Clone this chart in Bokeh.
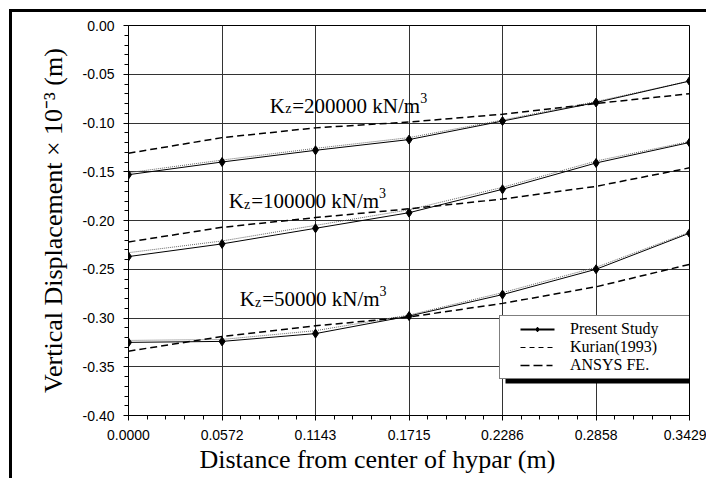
from bokeh.plotting import figure
from bokeh.models import (Range1d, FixedTicker, Legend, LegendItem, Label,
                          BoxAnnotation, ColumnDataSource, Title)
from bokeh.embed import file_html
from bokeh.resources import INLINE

# ---------------- data ----------------
x_pos = [0.0000, 0.0572, 0.1143, 0.1715, 0.2286, 0.2858, 0.3429]
x_labels = ["0.0000", "0.0572", "0.1143", "0.1715", "0.2286", "0.2858", "0.3429"]
y_ticks = [0.00, -0.05, -0.10, -0.15, -0.20, -0.25, -0.30, -0.35, -0.40]
y_labels = ["0.00", "-0.05", "-0.10", "-0.15", "-0.20", "-0.25", "-0.30", "-0.35", "-0.40"]

present_200k = [-0.153, -0.140, -0.128, -0.117, -0.098, -0.079, -0.057]
kurian_200k = [-0.151, -0.138, -0.126, -0.115, -0.097, -0.078, -0.057]
ansys_200k = [-0.131, -0.115, -0.105, -0.099, -0.091, -0.080, -0.070]

present_100k = [-0.237, -0.224, -0.208, -0.192, -0.168, -0.141, -0.120]
kurian_100k = [-0.233, -0.221, -0.205, -0.189, -0.166, -0.139, -0.119]
ansys_100k = [-0.222, -0.207, -0.197, -0.188, -0.178, -0.165, -0.146]

present_50k = [-0.325, -0.324, -0.316, -0.298, -0.276, -0.250, -0.213]
kurian_50k = [-0.323, -0.322, -0.313, -0.297, -0.274, -0.248, -0.212]
ansys_50k = [-0.334, -0.319, -0.308, -0.299, -0.285, -0.268, -0.245]

series_names = ["Present Study", "Kurian(1993)", "ANSYS FE."]
kz_labels = ["=200000 kN/m", "=100000 kN/m", "=50000 kN/m"]
x_title = "Distance from center of hypar (m)"
y_title = "Vertical Displacement \u00d7 10\u207b\u00b3 (m)"

SERIF = "Liberation Serif"
SANS = "Liberation Sans"
NAN = float("nan")

# canvas starts 12px right/down of the page origin (outer frame of the chart)
p = figure(width=697, height=469, output_backend="svg", toolbar_location=None,
           x_range=Range1d(0, 0.3429), y_range=Range1d(-0.40, 0.0),
           min_border_left=116, min_border_right=20, min_border_top=13,
           min_border_bottom=66,
           styles={"margin-left": "9px", "margin-top": "9px",
                   "border-left": "3px solid black", "border-top": "3px solid black"})
p.background_fill_color = "white"
p.border_fill_color = "white"
p.outline_line_color = "black"
p.outline_line_width = 1

# minor tick positions
x_minor = []
for a, b in zip(x_pos[:-1], x_pos[1:]):
    for k in range(1, 5):
        x_minor.append(a + (b - a) * k / 5)
y_minor = [-i / 100 for i in range(0, 41) if i % 5 != 0]

p.xaxis.ticker = FixedTicker(ticks=x_pos, minor_ticks=x_minor)
p.yaxis.ticker = FixedTicker(ticks=y_ticks, minor_ticks=y_minor)
p.xaxis.major_label_overrides = {v: s for v, s in zip(x_pos, x_labels)}
p.yaxis.major_label_overrides = {v: s for v, s in zip(y_ticks, y_labels)}

for ax in (p.xaxis[0], p.yaxis[0]):
    ax.axis_line_color = "black"
    ax.axis_line_width = 1
    ax.major_tick_line_color = "black"
    ax.minor_tick_line_color = "black"
    ax.major_tick_in = 0
    ax.major_tick_out = 5
    ax.minor_tick_in = 0
    ax.minor_tick_out = 4
    ax.major_label_text_font = SANS
    ax.major_label_text_font_size = "14px"
    ax.major_label_text_color = "black"
    ax.axis_label_text_font = SERIF
    ax.axis_label_text_font_style = "normal"
    ax.axis_label_text_font_size = "26px"
    ax.axis_label_text_color = "black"

p.xaxis.major_label_standoff = 9
p.yaxis.major_label_standoff = 9
p.yaxis.axis_label = y_title
p.yaxis.axis_label_standoff = 12

p.grid.grid_line_color = "#333333"
p.grid.grid_line_width = 1

for pres, kur, ans in [(present_200k, kurian_200k, ansys_200k),
                       (present_100k, kurian_100k, ansys_100k),
                       (present_50k, kurian_50k, ansys_50k)]:
    p.line(x_pos, kur, line_color="#666666", line_width=1, line_dash="1 1")
    p.line(x_pos, ans, line_color="black", line_width=1.5, line_dash="7 4")
    p.line(x_pos, pres, line_color="black", line_width=1)
    p.scatter(x_pos, pres, marker="diamond", size=9, fill_color="black",
              line_color="black")

# legend-only proxies (key styles as drawn in the legend; a zero-length first
# dash followed by a gap indents the key inside the box)
proxy = ColumnDataSource(data=dict(x=[NAN], y=[NAN]))
pres_proxy_l = p.line("x", "y", source=proxy, line_color="black", line_width=2,
                      line_dash="0 16 34 300")
pres_proxy_m = p.scatter("x", "y", source=proxy, marker="diamond", size=10,
                         fill_color="black", line_color="black")
kur_proxy = p.line("x", "y", source=proxy, line_color="black", line_width=1,
                   line_dash="0 16 5 4 5 4 5 4 5 300")
ans_proxy = p.line("x", "y", source=proxy, line_color="black", line_width=1.5,
                   line_dash="0 16 9 4 9 4 6 300")

# legend shadow
p.add_layout(BoxAnnotation(left=490, right=681, top=308, bottom=368,
                           left_units="canvas", right_units="canvas",
                           top_units="canvas", bottom_units="canvas",
                           fill_color="black", fill_alpha=1, line_alpha=0))

legend = Legend(items=[
    LegendItem(label=series_names[0], renderers=[pres_proxy_l, pres_proxy_m]),
    LegendItem(label=series_names[1], renderers=[kur_proxy]),
    LegendItem(label=series_names[2], renderers=[ans_proxy]),
], location=(371, 36))
legend.label_text_font = SERIF
legend.label_text_font_size = "16px"
legend.label_text_color = "black"
legend.glyph_width = 66
legend.glyph_height = 12
legend.label_height = 12
legend.label_width = 118
legend.label_standoff = 0
legend.padding = 4
legend.spacing = 0
legend.margin = 0
legend.border_line_color = "black"
legend.border_line_width = 1.5
legend.background_fill_color = "white"
legend.background_fill_alpha = 1
p.add_layout(legend, "center")

# Kz annotations
def kz_label(x0, y0, body):
    size_main = 21
    p.add_layout(Label(x=x0, y=y0, text="K", text_font=SERIF,
                       text_font_size=f"{size_main}px", text_baseline="alphabetic",
                       text_color="black"))
    p.add_layout(Label(x=x0, y=y0, x_offset=15.3, y_offset=-3, text="z",
                       text_font=SERIF, text_font_size="14px",
                       text_baseline="alphabetic", text_color="black"))
    p.add_layout(Label(x=x0, y=y0, x_offset=22.4, text=body, text_font=SERIF,
                       text_font_size=f"{size_main}px", text_baseline="alphabetic",
                       text_color="black"))
    widths = {"=": 0.564, "0": 0.5, "1": 0.5, "2": 0.5, "5": 0.5, " ": 0.25,
              "k": 0.5, "N": 0.722, "/": 0.278, "m": 0.778}
    w = sum(widths.get(c, 0.5) for c in body) * size_main
    p.add_layout(Label(x=x0, y=y0, x_offset=22.4 + w, y_offset=8, text="3",
                       text_font=SERIF, text_font_size="14px",
                       text_baseline="alphabetic", text_color="black"))

kz_label(0.0864, -0.0821, kz_labels[0])
kz_label(0.0613, -0.1805, kz_labels[1])
kz_label(0.0680, -0.2810, kz_labels[2])

# x-axis title (offset left of centre, as in the original)
p.add_layout(Title(text=x_title, align="left", offset=71, standoff=0,
                   text_font=SERIF, text_font_size="26px",
                   text_font_style="normal", text_color="black"), "below")

open("out.html", "w").write(file_html(p, INLINE))
